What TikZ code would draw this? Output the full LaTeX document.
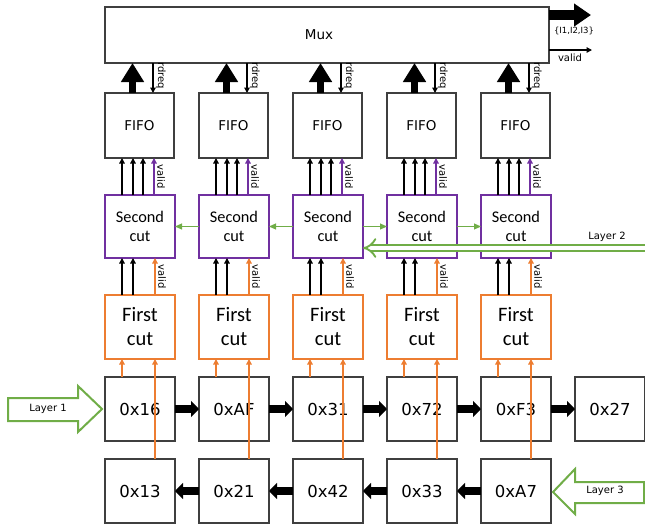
\documentclass[tikz,border=0pt]{standalone}
\usepackage{fontspec}
\setmainfont{DejaVu Sans}
\newfontfamily\carl{Carlito}
\usetikzlibrary{arrows.meta,calc}
\definecolor{purp}{HTML}{7030A0}
\definecolor{orng}{HTML}{ED7D31}
\definecolor{grn}{HTML}{70AD47}
\definecolor{bord}{HTML}{3F3F3F}
\begin{document}
\begin{tikzpicture}[x=1pt,y=-1pt,
  box/.style={draw=bord, line width=1.3pt, fill=white, inner sep=0pt, outer sep=0pt,
    anchor=north west, minimum width=70pt, minimum height=64pt, align=center},
  fifobox/.style={box, minimum width=69pt, minimum height=65pt, font=\fontsize{13.5}{16}\selectfont},
  scbox/.style={box, draw=purp, minimum height=63pt, font=\carl\fontsize{16.3}{19}\selectfont},
  fcbox/.style={box, draw=orng, font=\carl\fontsize{20.5}{24}\selectfont},
  hexbox/.style={box, font=\fontsize{16.5}{20}\selectfont},
  ar/.style={line width=1.3pt, -{Triangle[width=5.5pt,length=5.5pt]}},
  garrow/.style={grn, line width=1pt, -{Triangle[width=6pt,length=7pt]}},
  fat/.style={line width=7.5pt, -{Triangle[width=16pt,length=8pt]}},
  muxfat/.style={line width=7pt, -{Triangle[width=22pt,length=19pt]}},
  small/.style={font=\fontsize{10}{12}\selectfont, inner sep=0pt},
  vlab/.style={small, rotate=-90},
  layerarrow/.style={draw=grn, line width=2pt, fill=white, line join=miter}
]
\useasboundingbox (0,0) rectangle (645,528);

% Mux
\node[box, minimum width=444pt, minimum height=56pt,
  label={[font=\fontsize{13.5}{16}\selectfont, xshift=-8pt]center:Mux}] (mux) at (105,7) {};

% columns
\foreach \i/\a/\b in {1/0x16/0x13, 2/0xAF/0x21, 3/0x31/0x42, 4/0x72/0x33, 5/0xF3/0xA7} {
  \pgfmathsetmacro\L{105+94*(\i-1)}
  \node[fifobox] (fifo\i) at (\L,93) {FIFO};
  \node[scbox] (sc\i) at (\L,195) {Second\\cut};
  \node[fcbox] (fc\i) at (\L,295) {First\\cut};
  \node[hexbox] (h\i) at (\L,377) {\a};
  \node[hexbox] (g\i) at (\L,459) {\b};
}
\node[hexbox] (h6) at (575,377) {0x27};

% connections per column
\foreach \i in {1,...,5} {
  % FIFO inputs
  \foreach \o in {17,28,38}
    \draw[ar] ($(sc\i.north west)+(\o,0)$) -- ($(fifo\i.south west)+(\o,0)$);
  \draw[ar, purp] ($(sc\i.north west)+(49,0)$) -- ($(fifo\i.south west)+(49,0)$);
  \node[vlab] (vf\i) at ($(fifo\i.south west)!0.5!(sc\i.north west)+(56,0)$) {valid};
  % Second cut inputs
  \foreach \o in {17,28}
    \draw[ar] ($(fc\i.north west)+(\o,0)$) -- ($(sc\i.south west)+(\o,0)$);
  \draw[ar, orng] ($(fc\i.north west)+(50,0)$) -- ($(sc\i.south west)+(50,0)$);
  \node[vlab] (vs\i) at ($(sc\i.south west)!0.5!(fc\i.north west)+(57,0)$) {valid};
  % First cut inputs
  \draw[ar, orng] ($(h\i.north west)+(17,0)$) -- ($(fc\i.south west)+(17,0)$);
  \draw[ar, orng] ($(g\i.north west)+(50,0)$) -- ($(fc\i.south west)+(50,0)$);
  % to Mux
  \coordinate (ft\i) at ($(fifo\i.north west)+(27.5,0)$);
  \coordinate (rq\i) at ($(fifo\i.north west)+(48,0)$);
  \draw[muxfat] (ft\i) -- (ft\i |- mux.south);
  \draw[ar] (rq\i |- mux.south) -- (rq\i);
  \node[vlab] (rd\i) at ($(rq\i)+(8,-17)$) {rdreq};
}

% hex chains
\foreach \i in {1,...,5} {
  \pgfmathtruncatemacro\j{\i+1}
  \draw[fat] (h\i.east) -- (h\j.west);
}
\foreach \i in {1,...,4} {
  \pgfmathtruncatemacro\j{\i+1}
  \draw[fat] (g\j.west) -- (g\i.east);
}

% second cut horizontal links
\draw[garrow] (sc2.west) -- (sc1.east);
\draw[garrow] (sc3.west) -- (sc2.east);
\draw[garrow] (sc3.east) -- (sc4.west);
\draw[garrow] (sc4.east) -- (sc5.west);

% Layer 2
\coordinate (l2s) at (648,248);
\draw[grn, line width=1.9pt, double=white, double distance=4.8pt, -{Implies}] (l2s) -- (sc3.east |- l2s);
\node[small] (lay2) at (607,237) {Layer 2};

% Layer 1
\draw[layerarrow] (8,398) -- (78,398) -- (78,386) -- (102,409) -- (78,432) -- (78,421) -- (8,421) -- cycle;
\node[small] (lay1) at (48,409) {Layer 1};

% Layer 3
\draw[layerarrow] (644,482) -- (575,482) -- (575,469) -- (553,492) -- (575,514) -- (575,503) -- (644,503) -- cycle;
\node[small] (lay3) at (605,491) {Layer 3};

% Mux outputs
\coordinate (o1) at (591,15);
\coordinate (o2) at (592,50);
\draw[line width=9.5pt, -{Triangle[width=22pt,length=17pt]}] (mux.east |- o1) -- (o1);
\draw[ar] (mux.east |- o2) -- (o2);
\node[font=\fontsize{8.5}{10}\selectfont, inner sep=0pt] (ol1) at (574,31) {\{I1,I2,I3\}};
\node[font=\fontsize{10}{12}\selectfont, inner sep=0pt] (ol2) at (570,58) {valid};
\end{tikzpicture}
\end{document}
